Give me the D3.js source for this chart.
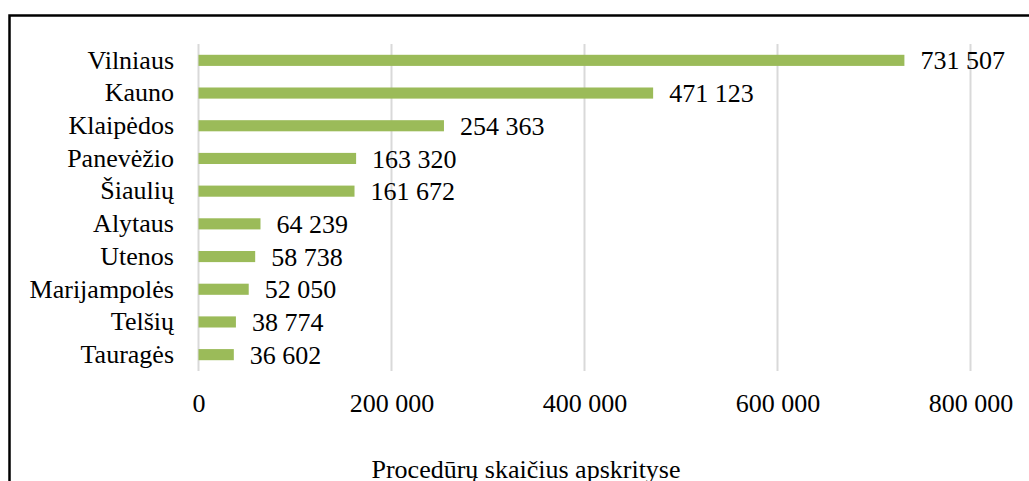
<!DOCTYPE html>
<html>
<head>
<meta charset="utf-8">
<script src="https://cdn.jsdelivr.net/npm/d3@7"></script>
<style>
  body { margin: 0; background: #fff; }
  svg text { font-family: "Liberation Serif", "Times New Roman", Times, "DejaVu Serif", serif !important; fill: #000; }
</style>
</head>
<body>
<div class="canvas"></div>
<script>
// apskritys ir procedūrų skaičius
const regions = ["Vilniaus", "Kauno", "Klaipėdos", "Panevėžio", "Šiaulių", "Alytaus", "Utenos", "Marijampolės", "Telšių", "Tauragės"];
const counts = [731507, 471123, 254363, 163320, 161672, 64239, 58738, 52050, 38774, 36602];
const ticks = [0, 200000, 400000, 600000, 800000];
const title = "Procedūrų skaičius apskrityse";

const svgWidth = 1029, svgHeight = 481;
const margin = { top: 44, left: 198.5, right: 58.5, bottom: 110 };
const serif = '"Liberation Serif", "Times New Roman", Times, serif';

const svg = d3.select(".canvas").append("svg")
  .attr("width", svgWidth)
  .attr("height", svgHeight)
  .style("font-family", serif);

// rėmelis
svg.append("rect")
  .attr("x", 9.5).attr("y", 15.5)
  .attr("width", 1100).attr("height", 600)
  .attr("fill", "none")
  .attr("stroke", "#000")
  .attr("stroke-width", 2.5);

const x = d3.scaleLinear()
  .domain([0, 800000])
  .range([margin.left, svgWidth - margin.right]);

const y = d3.scaleBand()
  .domain(regions)
  .range([margin.top, 371])
  .paddingInner(0.66)
  .paddingOuter(0.33);

// tinklelio linijos
svg.append("g")
  .selectAll("line")
  .data(ticks)
  .join("line")
  .attr("x1", d => x(d)).attr("x2", d => x(d))
  .attr("y1", margin.top).attr("y2", 371)
  .attr("stroke", "#d9d9d9")
  .attr("stroke-width", 2);

// x ašies žymės
const fmt = d => d3.format(",")(d).replace(/,/g, " ");
const xAxis = d3.axisBottom(x).tickValues(ticks).tickSize(0).tickPadding(0).tickFormat(fmt);
const gx = svg.append("g")
  .attr("transform", "translate(0, 394)")
  .call(xAxis)
  .attr("font-family", null);
gx.select(".domain").remove();
gx.selectAll("text")
  .attr("font-size", 26)
  .style("font-family", serif)
  .attr("fill", "#000")
  .attr("dy", "0.71em");

// y ašies pavadinimai
const yAxis = d3.axisLeft(y).tickSize(0).tickPadding(24.5);
const gy = svg.append("g")
  .attr("transform", `translate(${margin.left}, 0)`)
  .call(yAxis)
  .attr("font-family", null);
gy.select(".domain").remove();
gy.selectAll("text")
  .attr("font-size", 26)
  .style("font-family", serif)
  .attr("fill", "#000");

const data = regions.map((r, i) => ({ region: r, value: counts[i] }));

// stulpeliai
svg.append("g")
  .selectAll("rect")
  .data(data)
  .join("rect")
  .attr("x", x(0))
  .attr("y", d => y(d.region))
  .attr("width", d => x(d.value) - x(0))
  .attr("height", y.bandwidth())
  .attr("fill", "#9bbb59");

// reikšmių etiketės
svg.append("g")
  .selectAll("text")
  .data(data)
  .join("text")
  .attr("x", d => x(d.value) + 16)
  .attr("y", d => y(d.region) + y.bandwidth() / 2)
  .attr("dy", "0.35em")
  .attr("font-size", 26)
  .style("font-family", serif)
  .text(d => fmt(d.value));

// pavadinimas
svg.append("text")
  .attr("x", 526)
  .attr("y", 478)
  .attr("text-anchor", "middle")
  .attr("font-size", 26)
  .style("font-family", serif)
  .text(title);
</script>
</body>
</html>
